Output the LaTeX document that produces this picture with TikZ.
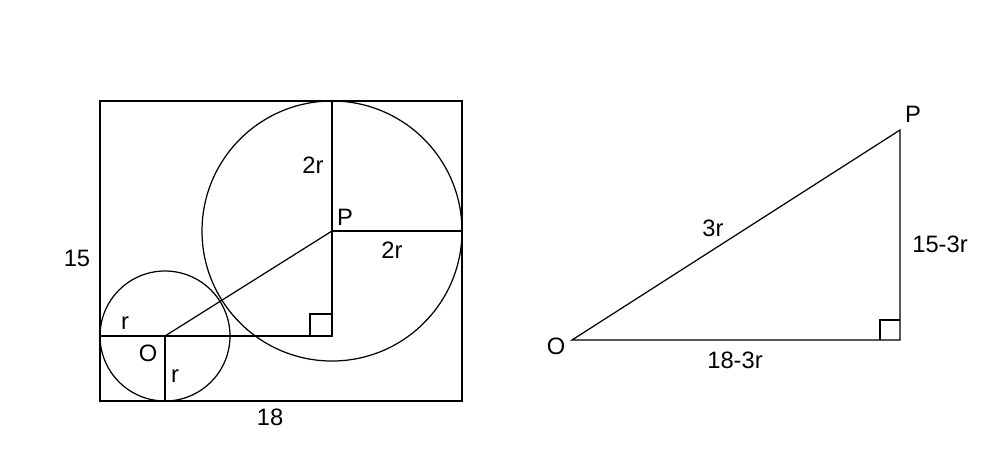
\documentclass[tikz,border=0pt]{standalone}
\usepackage{fontspec}
\setmainfont{Liberation Sans}
\begin{document}
\begin{tikzpicture}[x=0.02cm,y=-0.02cm,line width=0.7pt,
    lbl/.style={font=\fontsize{13.5}{16}\selectfont, inner sep=0pt}]
    \useasboundingbox (0,0) rectangle (1000,458);
    % Rectangle et cercles
    \draw (100,101) rectangle (462,401);
    \coordinate (O) at (165,336);
    \coordinate (P) at (332,231);
    \coordinate (C) at (332,336);
    \draw (O) circle[radius=65];
    \draw (P) circle[radius=130];
    \draw (O) -- (P);
    \draw (100,336) -- (C) -- (332,101);
    \draw (P) -- (462,231);
    \draw (O) -- (165,401);
    \draw (310,336) -- (310,314) -- (332,314);
    \node[lbl] at (77,258) {15};
    \node[lbl] at (270,417) {18};
    \node[lbl] at (313,165) {2r};
    \node[lbl] at (345,217) {P};
    \node[lbl] at (392,250) {2r};
    \node[lbl] at (125,323) {r};
    \node[lbl] at (148,353) {O};
    \node[lbl] at (175,376) {r};

    % Triangle
    \coordinate (O2) at (572,340);
    \coordinate (C2) at (900,340);
    \coordinate (P2) at (900,130);
    \draw (O2) -- (C2) -- (P2) -- cycle;
    \draw (880,340) -- (880,320) -- (900,320);
    \node[lbl] at (913,114) {P};
    \node[lbl] at (713,228) {3r};
    \node[lbl] at (940,244) {15-3r};
    \node[lbl] at (556,346) {O};
    \node[lbl] at (735,360) {18-3r};
\end{tikzpicture}
\end{document}
